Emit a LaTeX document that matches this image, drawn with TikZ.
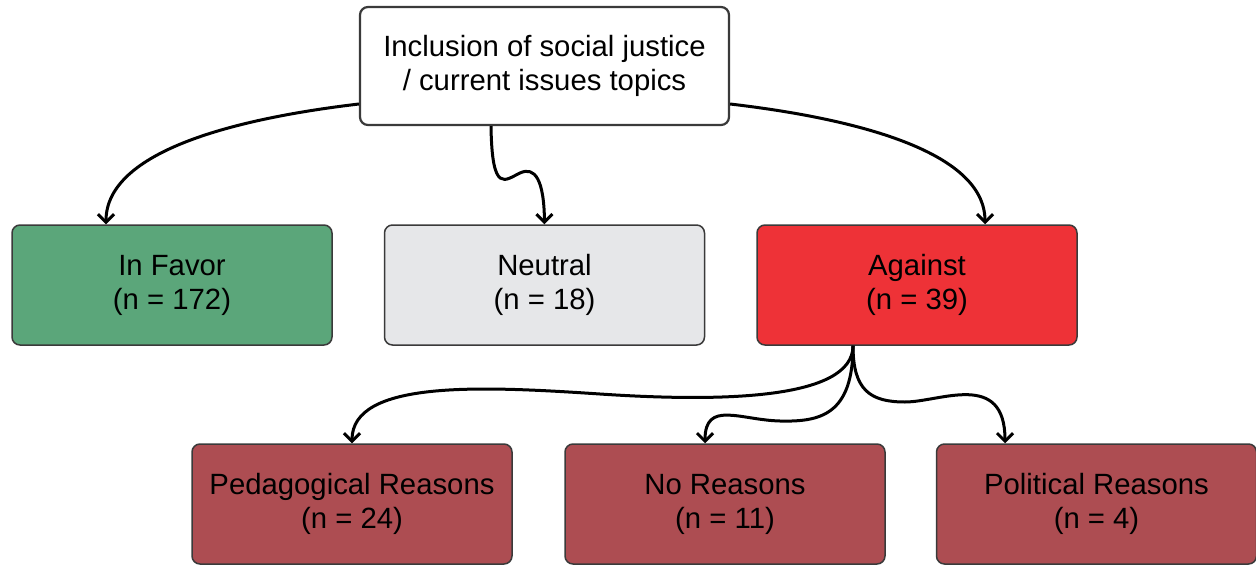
\documentclass[tikz,border=0pt]{standalone}
\usepackage{fontspec}
\setmainfont{Liberation Sans}
\usetikzlibrary{arrows.meta}
\definecolor{favor}{HTML}{5BA67A}
\definecolor{neutralc}{HTML}{E6E7E9}
\definecolor{againstc}{HTML}{EE3237}
\definecolor{reasonc}{HTML}{AD4D52}
\definecolor{edgec}{HTML}{3A3A3A}
\tikzset{
  box/.style={draw=edgec, line width=1.5pt, rounded corners=8pt, inner sep=0pt,
    minimum width=320pt, minimum height=120pt, align=center,
    font=\fontsize{29.3}{34}\selectfont, text=black},
  topbox/.style={box, fill=white, line width=2.2pt, minimum width=369pt, minimum height=118pt},
  conn/.style={line width=3pt, -{Straight Barb[length=8pt,width=16pt,line width=3pt]}}
}
\begin{document}
\begin{tikzpicture}[x=1pt,y=-1pt]
\useasboundingbox (0,0) rectangle (1256,565);
\node[topbox] (top) at (544.5,66) {Inclusion of social justice\\/ current issues topics};
\node[box, fill=favor] (favor) at (172,285) {In Favor\\(n = 172)};
\node[box, fill=neutralc] (neutral) at (544.5,285) {Neutral\\(n = 18)};
\node[box, fill=againstc] (against) at (917,285) {Against\\(n = 39)};
\node[box, fill=reasonc] (ped) at (352,504) {Pedagogical Reasons\\(n = 24)};
\node[box, fill=reasonc] (nor) at (725,504) {No Reasons\\(n = 11)};
\node[box, fill=reasonc] (pol) at (1096.5,504) {Political Reasons\\(n = 4)};
\coordinate (nw1) at (520,173);
\coordinate (pw1) at (600,394);
\coordinate (nr1) at (780,421);
\coordinate (pl1) at (905,402);
\draw[conn] (top.west |- 0,104) .. controls (240,118) and (106,150) .. (favor.north -| 106,0);
\draw[conn] (top.south -| 491,0) .. controls (492,195) and (505,180) .. (nw1)
  .. controls (535,166) and (544,180) .. (neutral.north);
\draw[conn] (top.east |- 0,104) .. controls (850,118) and (985,150) .. (against.north -| 985,0);
\draw[conn] (against.south -| 853,0) .. controls (853,400) and (720,402) .. (pw1)
  .. controls (480,386) and (352,380) .. (ped.north);
\draw[conn] (against.south -| 853,0) .. controls (853,415) and (820,422) .. (nr1)
  .. controls (740,420) and (705,400) .. (nor.north -| 705,0);
\draw[conn] (against.south -| 853,0) .. controls (853,390) and (870,402) .. (pl1)
  .. controls (940,402) and (1005,370) .. (pol.north -| 1005,0);
\end{tikzpicture}
\end{document}
